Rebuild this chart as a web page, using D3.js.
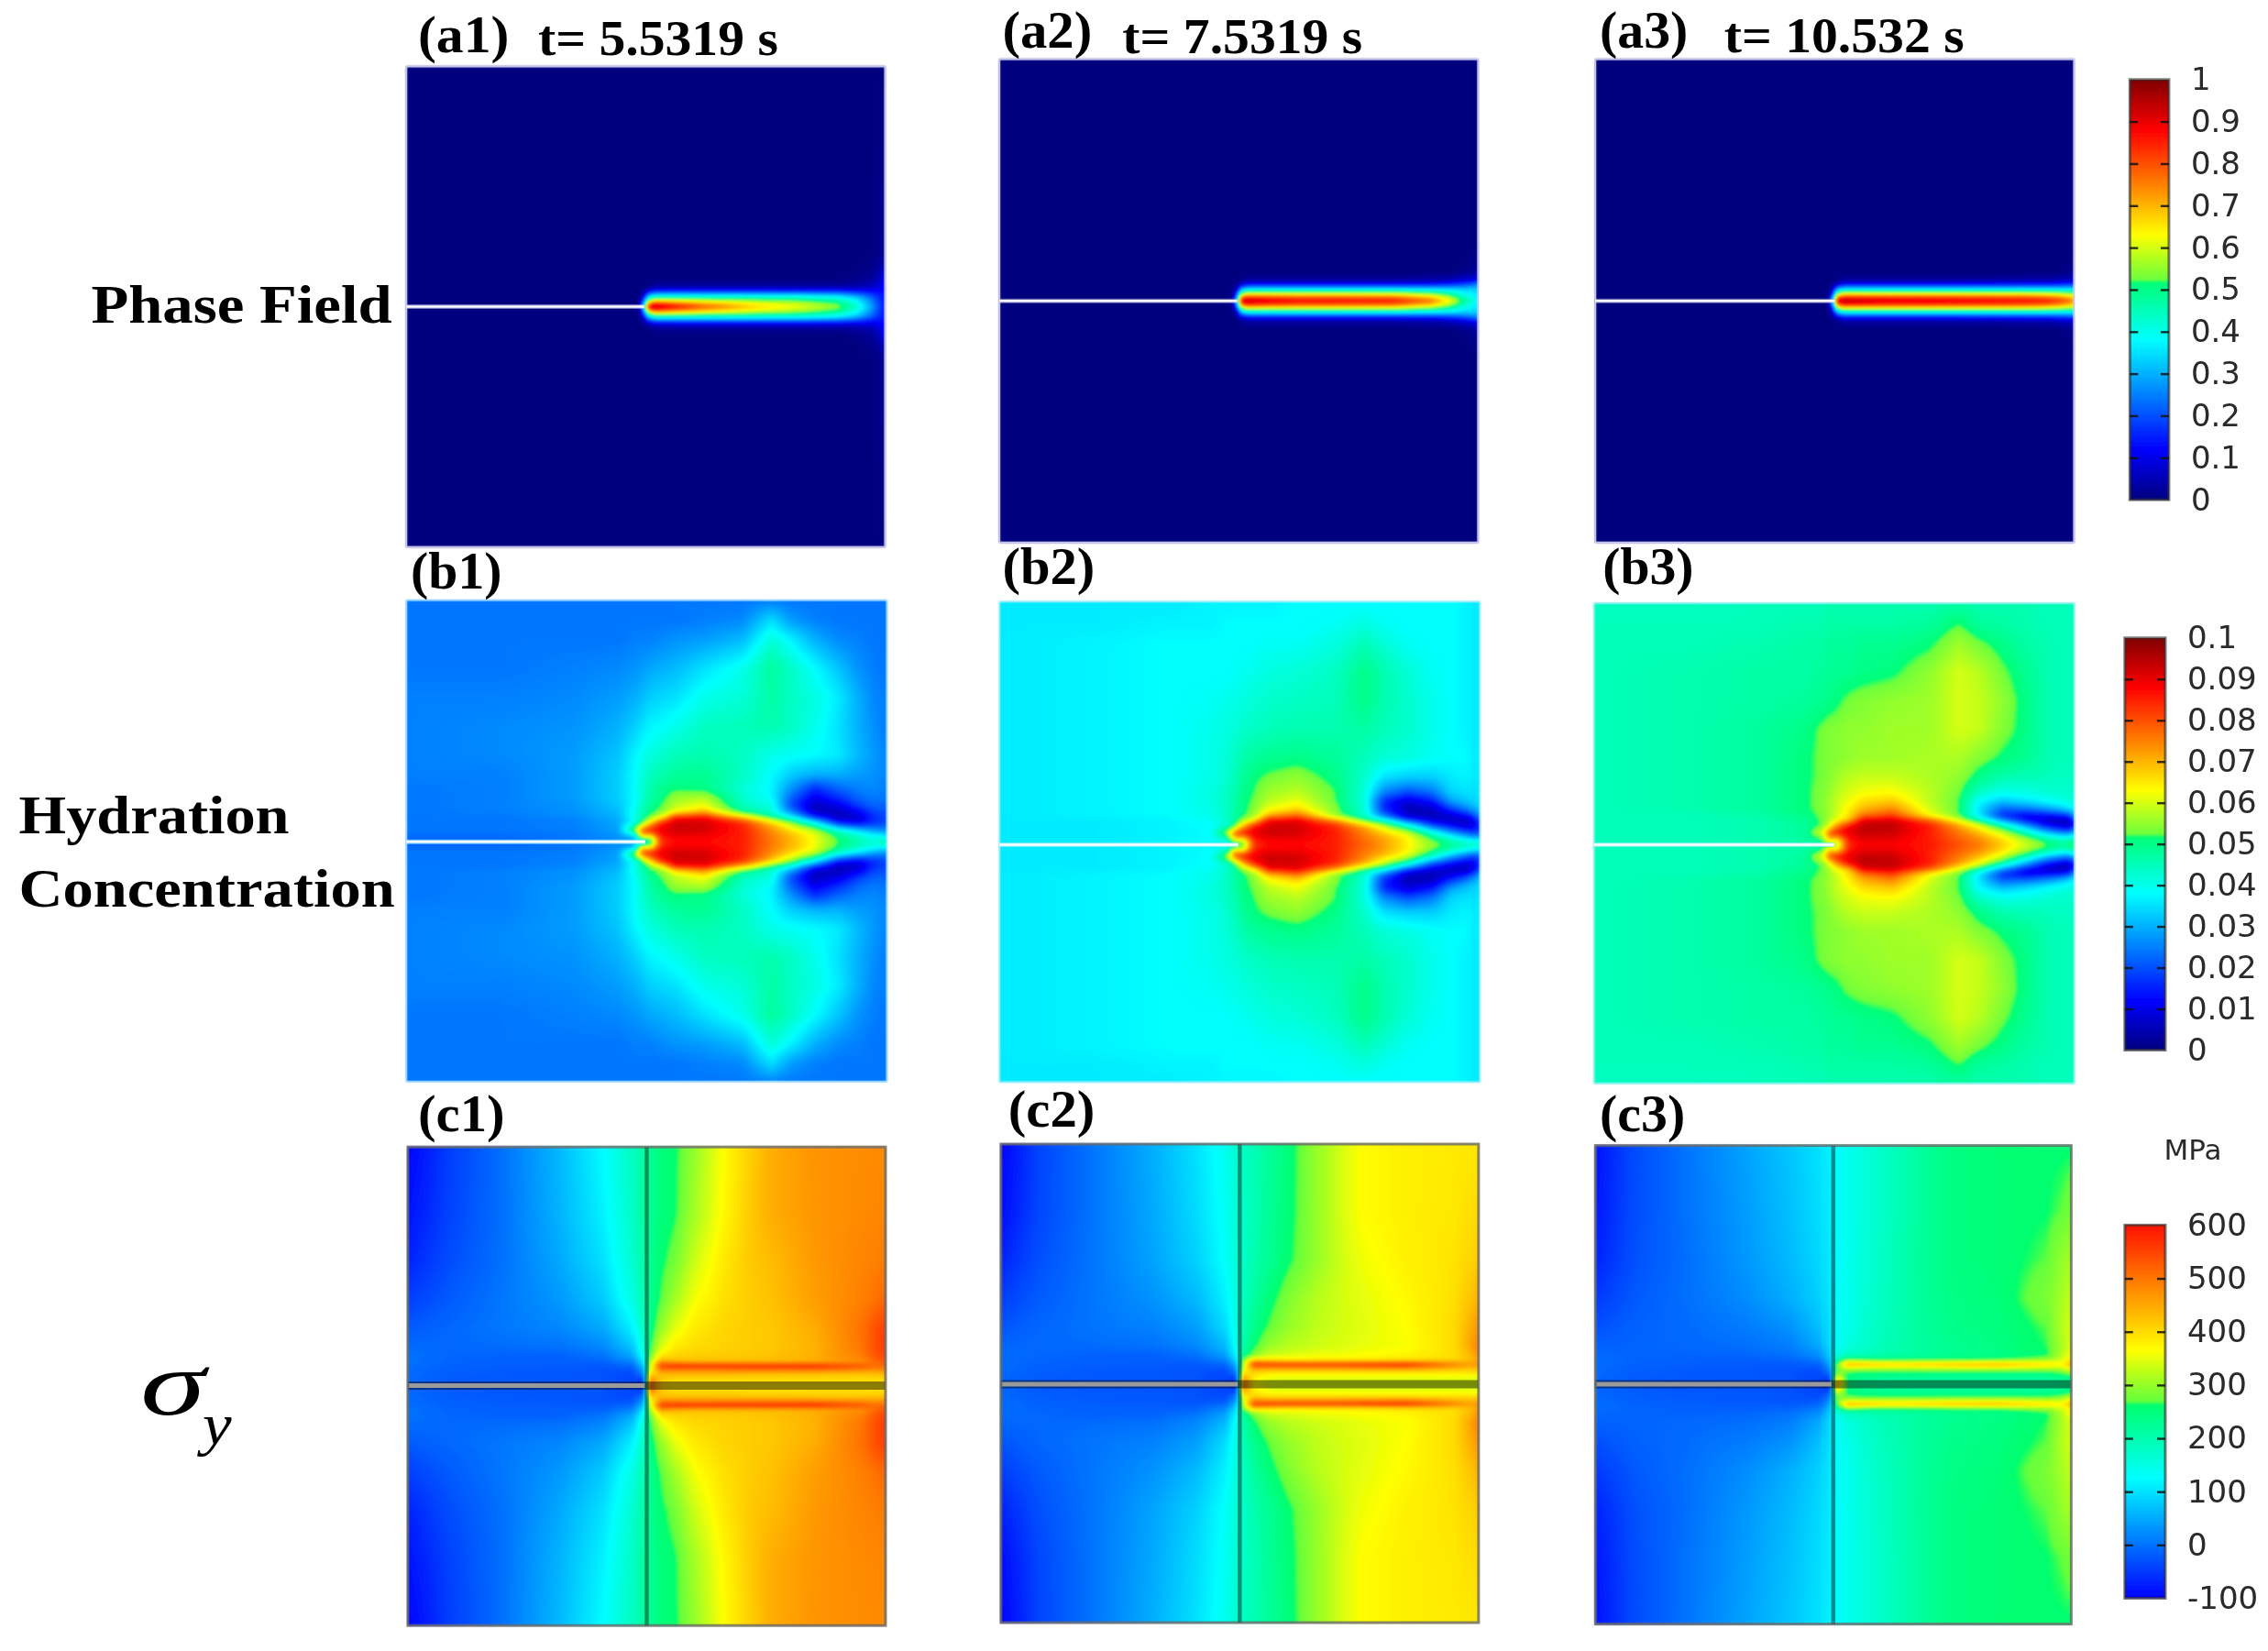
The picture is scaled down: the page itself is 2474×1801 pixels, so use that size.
<!DOCTYPE html>
<html><head><meta charset="utf-8">
<style>html,body{margin:0;padding:0;background:#fff}svg{display:block}</style>
<script src="https://cdnjs.cloudflare.com/ajax/libs/d3/7.8.5/d3.min.js"></script>
</head><body><svg id="c" width="2474" height="1801" viewBox="0 0 2474 1801"></svg>
<script>
// ---- colour ramps (value -> colour)
const rampStops=[0,12,25,38,51.5,52.5,63,75,88,100];
const rampColors=["#00007f","#0000ff","#0080ff","#00ffff","#00ff78","#6eff3c","#ffff00","#ff8000","#ff0000","#7f0000"];
const stressStops=[-100,125,262,270,365,600];
const stressColors=["#0000ff","#00ffff","#00ff6e","#64ff3c","#ffff00","#ff1000"];

// ---- sample positions: u across the panel, v = distance from the crack line (panel heights)
const U_A=[0,.485,.495,.505,.52,.56,.62,.72,.82,.9,.94,.97,.99,1];
const V_A=[0,.008,.016,.023,.03,.036,.045,.06,.08,.11,.5];
const U_B=[0,.2,.35,.44,.475,.49,.505,.53,.56,.62,.7,.76,.8,.85,.9,.94,.97,.99,1];
const V_B=[0,.012,.024,.04,.052,.06,.075,.09,.11,.14,.18,.24,.3,.36,.42,.46,.5];
const U_C=[0,.08,.2,.32,.41,.47,.495,.505,.53,.56,.6,.66,.72,.76,.85,.95,.98,1];
const V_C=[0,.012,.024,.034,.042,.05,.06,.08,.12,.18,.26,.36,.5];

const phaseA1=[
[0,0,35,92,97,90,80,69,63,56,44,30,18,14],
[0,0,22,70,82,76,70,62,57,50,40,27,17,14],
[0,0,12,45,55,54,52,50,48,44,36,25,16,14],
[0,0,6,30,38,38,38,38,37,34,28,20,15,14],
[0,0,2,14,20,21,21,21,21,20,17,14,13,14],
[0,0,0,5,8,9,9,9,9,9,9,9,11,13],
[0,0,0,0,2,2,2,2,2,2,3,5,9,13],
[0,0,0,0,0,0,0,0,0,0,1,2,6,11],
[0,0,0,0,0,0,0,0,0,0,0,1,3,8],
[0,0,0,0,0,0,0,0,0,0,0,0,1,3],
[0,0,0,0,0,0,0,0,0,0,0,0,0,0]];
const phaseA2=[
[0,0,30,94,96,92,89,88,87,78,65,50,42,38],
[0,0,20,78,84,82,80,79,78,68,56,44,38,36],
[0,0,10,50,58,58,58,58,57,52,46,38,36,35],
[0,0,5,33,40,40,40,40,40,38,36,34,34,34],
[0,0,2,16,22,22,22,22,22,22,24,26,28,30],
[0,0,0,5,9,9,9,9,9,10,12,16,20,24],
[0,0,0,0,2,2,2,2,2,3,4,6,8,11],
[0,0,0,0,0,0,0,0,0,0,0,1,2,5],
[0,0,0,0,0,0,0,0,0,0,0,0,1,2],
[0,0,0,0,0,0,0,0,0,0,0,0,0,0],
[0,0,0,0,0,0,0,0,0,0,0,0,0,0]];
const phaseA3=[
[0,0,30,95,97,95,93,92,90,88,87,83,78,72],
[0,0,20,78,85,84,83,82,81,80,78,74,70,66],
[0,0,10,50,60,60,60,60,60,60,58,56,54,52],
[0,0,5,33,40,40,40,40,40,40,40,38,38,38],
[0,0,2,16,22,22,22,22,22,23,23,24,25,26],
[0,0,0,5,9,9,9,9,10,10,10,12,13,14],
[0,0,0,0,2,2,2,2,2,3,3,4,5,6],
[0,0,0,0,0,0,0,0,0,0,0,0,1,2],
[0,0,0,0,0,0,0,0,0,0,0,0,0,1],
[0,0,0,0,0,0,0,0,0,0,0,0,0,0],
[0,0,0,0,0,0,0,0,0,0,0,0,0,0]];

const hydroB1=[
[22,22,24,26,28,30,38,82,87,87,85,76,70,62,52,46,42,46,50],
[23,23,24,27,30,72,62,86,89,89,85,75,70,62,50,44,40,38,35],
[24,24,25,28,58,80,88,90,93,92,85,74,66,58,42,34,28,26,26],
[24,24,25,29,38,50,64,85,92,92,84,68,56,38,14,10,16,18,20],
[24,24,26,30,40,46,52,60,86,88,68,48,38,16,5,7,16,18,20],
[24,25,27,31,40,45,50,54,64,72,50,42,28,7,5,10,18,20,20],
[24,25,27,32,38,44,48,52,58,62,44,41,20,5,10,18,22,22,22],
[24,25,28,33,38,42,47,50,56,58,43,38,22,10,16,22,24,24,24],
[24,25,28,33,38,42,46,49,51,50,42,37,27,16,22,25,26,25,25],
[25,25,28,33,38,41,44,46,48,49,44,38,33,30,30,28,27,26,26],
[25,26,28,32,37,39,41,43,45,46,44,40,39,38,36,31,28,26,26],
[25,26,27,30,33,35,37,38,40,44,45,46,44,40,35,30,27,25,25],
[25,25,26,28,30,31,33,34,35,40,42,47,44,41,36,30,26,25,25],
[24,24,25,26,27,28,29,30,31,35,40,48,44,38,32,27,25,24,24],
[24,24,24,24,25,25,25,26,27,28,31,42,37,30,26,25,24,24,24],
[24,24,24,24,24,24,24,24,24,25,26,35,28,25,24,24,24,24,24],
[24,24,24,24,24,24,24,24,24,24,24,25,24,24,24,24,24,24,24]];
const hydroB2=[
[36,36,37,38,38,40,46,82,87,87,85,78,72,64,56,50,46,46,48],
[36,36,37,38,42,72,62,86,89,89,85,76,72,64,52,44,38,34,34],
[36,36,37,38,60,80,88,90,93,92,85,75,68,60,44,30,22,18,22],
[36,36,37,38,42,50,66,86,92,92,84,70,58,42,20,12,8,10,20],
[36,36,37,39,43,48,54,62,88,90,72,50,40,18,8,6,5,10,24],
[36,37,38,40,44,47,50,56,70,78,54,42,24,6,5,7,12,20,30],
[36,37,38,40,44,47,50,54,62,66,54,42,16,5,6,18,25,30,34],
[36,37,38,41,44,47,50,53,58,62,52,41,16,8,14,28,32,34,35],
[36,37,38,41,44,46,49,52,56,58,52,41,26,20,24,34,35,35,35],
[36,37,38,40,43,45,48,51,53,55,50,43,35,33,33,36,37,36,36],
[36,37,38,40,42,44,46,48,49,50,48,45,42,41,39,38,38,36,36],
[36,37,38,40,41,42,43,44,45,46,46,47,45,43,40,38,37,36,36],
[36,37,38,39,40,40,41,42,43,44,45,50,46,43,40,38,37,36,36],
[36,37,38,38,38,39,39,40,41,42,44,50,46,42,39,38,37,36,36],
[36,37,38,38,38,38,38,38,39,39,41,45,42,39,38,38,37,36,36],
[36,36,37,37,38,38,38,38,38,38,39,41,39,38,38,38,37,36,36],
[36,36,36,37,37,37,37,37,37,38,38,38,38,38,38,38,37,36,36]];
const hydroB3=[
[45,45,46,47,48,50,54,84,88,88,86,80,76,68,60,54,50,50,54],
[45,45,46,47,50,72,64,86,90,90,85,78,74,66,56,48,44,44,48],
[45,45,46,48,62,80,88,90,94,93,85,76,70,60,46,34,28,26,34],
[45,45,46,48,52,60,72,88,94,94,85,72,62,46,28,14,8,6,16],
[45,45,46,49,53,57,62,66,90,92,78,60,46,26,12,6,4,5,22],
[45,45,47,50,53,56,60,66,76,82,62,52,36,16,10,12,14,18,30],
[45,46,48,51,54,56,59,64,70,74,60,52,36,22,24,28,32,36,38],
[45,46,48,51,54,56,59,62,66,68,58,52,38,32,35,38,40,41,42],
[45,46,48,51,54,55,58,60,62,63,58,53,44,40,41,42,43,43,43],
[45,46,48,51,53,54,56,58,59,59,57,55,50,46,45,45,44,44,44],
[45,46,48,51,53,54,54,55,56,56,57,57,54,51,49,46,45,45,45],
[45,46,48,50,53,54,54,55,55,56,56,60,59,54,50,46,45,45,45],
[45,46,47,48,49,50,51,53,54,55,56,60,59,55,50,46,45,45,45],
[45,46,47,47,48,48,49,49,50,51,55,60,58,53,49,46,45,45,45],
[45,45,46,47,47,48,48,48,49,49,51,56,53,50,47,46,45,45,45],
[45,45,45,46,46,47,47,47,47,47,48,52,48,47,46,45,45,45,45],
[44,44,45,45,45,46,46,46,46,46,46,47,46,46,46,45,45,45,44]];

const stressC1=[
[-10,-20,-25,-25,-28,-40,-55,560,400,390,390,390,390,390,390,390,390,390],
[-8,-20,-24,-25,-28,-40,-50,500,420,400,400,400,400,400,400,400,400,400],
[-5,-18,-22,-24,-28,-35,20,400,430,430,430,430,425,425,420,420,425,430],
[-5,-16,-20,-22,-26,-25,50,330,500,500,495,500,505,505,510,490,480,490],
[0,-14,-18,-20,-22,-5,80,320,570,590,590,590,590,590,590,540,510,520],
[0,-12,-16,-16,-12,15,110,300,470,440,430,430,430,430,440,470,510,530],
[0,-10,-15,-15,0,45,140,270,395,410,415,415,420,425,445,490,530,550],
[-5,-8,-5,0,20,75,165,250,345,385,400,410,415,420,440,500,540,560],
[-20,-10,5,20,50,115,185,235,300,350,385,405,415,420,445,505,540,555],
[-45,-22,5,35,80,150,200,225,270,310,360,395,415,425,460,490,505,515],
[-70,-35,0,50,100,170,210,225,258,280,335,385,420,430,465,485,490,495],
[-85,-45,0,60,115,180,215,225,250,262,310,370,420,445,468,480,483,483],
[-100,-50,0,65,125,185,215,225,250,260,300,365,415,445,470,478,480,480]];
const stressC2=[
[-10,-20,-25,-25,-28,-40,-55,540,360,340,340,340,340,340,340,340,340,340],
[-10,-20,-24,-25,-28,-40,-50,480,380,350,345,345,345,345,345,345,345,345],
[-8,-18,-22,-24,-28,-35,10,380,400,385,385,385,385,385,385,385,390,395],
[-5,-16,-20,-22,-26,-25,40,320,480,470,470,470,475,480,485,440,430,440],
[-5,-14,-18,-20,-22,-5,70,300,570,580,580,580,580,590,595,500,470,480],
[-5,-12,-16,-16,-12,15,100,280,430,400,385,385,385,385,395,405,425,450],
[-5,-10,-15,-15,0,40,125,220,290,335,345,355,360,365,375,395,430,470],
[-10,-8,-5,0,20,65,145,200,258,300,320,335,345,352,362,400,450,490],
[-25,-10,3,15,40,95,155,190,235,270,300,325,340,348,365,400,440,470],
[-45,-20,5,30,65,115,160,180,215,250,285,320,340,350,370,395,420,440],
[-70,-30,5,45,85,130,165,175,200,225,258,300,340,358,378,392,405,415],
[-90,-38,5,50,95,135,165,175,195,222,252,300,345,368,380,388,395,400],
[-100,-40,5,55,100,140,170,178,195,220,250,300,345,368,380,385,388,388]];
const stressC3=[
[-10,-20,-25,-25,-28,-40,-55,500,245,215,215,215,215,215,215,215,220,225],
[-10,-20,-24,-25,-28,-40,-50,400,245,235,225,220,220,220,220,220,225,235],
[-8,-18,-22,-24,-28,-35,5,290,260,250,248,248,248,248,248,250,270,295],
[-5,-16,-20,-22,-26,-25,30,280,330,320,320,320,325,330,330,320,330,395],
[-5,-14,-18,-20,-22,-10,50,260,470,470,450,450,460,470,475,420,380,445],
[-5,-12,-16,-16,-12,5,70,200,300,270,255,255,255,258,265,300,340,390],
[-8,-12,-12,-10,0,25,90,150,180,190,200,212,225,230,240,260,320,370],
[-15,-12,-8,-2,12,50,100,130,155,170,190,208,225,232,245,265,310,345],
[-30,-15,-5,10,30,70,105,125,145,165,185,208,228,238,248,270,320,340],
[-50,-22,0,25,55,85,108,122,142,160,180,208,232,242,252,285,310,330],
[-70,-30,0,35,65,92,110,122,140,158,178,208,235,245,255,270,300,310],
[-80,-33,3,40,70,97,112,122,140,155,175,205,235,245,255,262,270,280],
[-85,-35,5,45,75,100,115,122,140,155,175,205,235,245,258,260,260,260]];

// ---- colour bar ticks and labels
const phaseTicks=[0,.1,.2,.3,.4,.5,.6,.7,.8,.9,1];
const phaseLabels=["0","0.1","0.2","0.3","0.4","0.5","0.6","0.7","0.8","0.9","1"];
const hydroTicks=[0,.01,.02,.03,.04,.05,.06,.07,.08,.09,.1];
const hydroLabels=["0","0.01","0.02","0.03","0.04","0.05","0.06","0.07","0.08","0.09","0.1"];
const stressTicks=[-100,0,100,200,300,400,500,600];
const stressLabels=["-100","0","100","200","300","400","500","600"];

// ---- text
const panelTags=["(a1)","(a2)","(a3)","(b1)","(b2)","(b3)","(c1)","(c2)","(c3)"];
const timeTags=["t= 5.5319 s","t= 7.5319 s","t= 10.532 s"];
const rowTitles=["Phase Field","Hydration","Concentration"];

// ---- layout (pixels of the 2474 wide page, given at 1568 scale then multiplied)
const S=2474/1568;
const panelBox=[ // x0,x1,y0,y1,crack line y, tip u
 [281,612,46,378,212,.497],[691,1022,41,375,208,.497],[1103,1434,41,375,208,.5],
 [281,613,415,748,582,.497],[691,1023,416,748,584,.497],[1102,1434,417,749,584,.5],
 [282,612,793,1124,958,.5],[692,1022,791,1122,957,.5],[1103,1432,792,1123,957,.5]];
const tagPos=[[289,352,36],[693,755,33],[1106,1167,33],[284,347,407],[693,757,404],[1108,1171,404],[289,349,782],[697,757,779],[1106,1165,782]];
const timePos=[[372,538,38],[776,942,37],[1192,1358,36]];
const titlePos=[[63,271,223],[13,200,576],[13,273,627]];
const blurRadius=[2,3,2];

const svg=d3.select("#c");
const fields=[phaseA1,phaseA2,phaseA3,hydroB1,hydroB2,hydroB3,stressC1,stressC2,stressC3];
const rampCol=d3.scaleLinear().domain(rampStops).range(rampColors).clamp(true);
const stressCol=d3.scaleLinear().domain(stressStops).range(stressColors).clamp(true);

function lut(col,lo,hi){
  const n=2048,t=new Uint8Array(n*3),s=d3.scaleLinear([0,n-1],[lo,hi]);
  for(let i=0;i<n;i++){const c=d3.rgb(col(s(i)));t[3*i]=c.r;t[3*i+1]=c.g;t[3*i+2]=c.b;}
  return {t,n,lo,hi};
}
const lutRamp=lut(rampCol,0,100), lutStress=lut(stressCol,-100,600);
const defs=svg.append("defs");
defs.append("filter").attr("id","soft").attr("x","-2%").attr("y","-2%").attr("width","104%").attr("height","104%")
  .append("feGaussianBlur").attr("stdDeviation",.9);
const tb=defs.append("filter").attr("id","txt").attr("x","-5%").attr("y","-20%").attr("width","110%").attr("height","140%");
tb.append("feGaussianBlur").attr("stdDeviation",.7);

function boxPass(f,W,H,r,stepA,stepB,nA,nB){
  const tmp=new Float32Array(nA);
  for(let b=0;b<nB;b++){
    for(let a=0;a<nA;a++){
      let s=0;for(let k=-r;k<=r;k++){const q=Math.max(0,Math.min(nA-1,a+k));s+=f[b*stepB+q*stepA];}
      tmp[a]=s/(2*r+1);
    }
    for(let a=0;a<nA;a++)f[b*stepB+a*stepA]=tmp[a];
  }
}
function render(rows,U,V,L,W,H,cyRel,r){
  const cv=document.createElement("canvas");cv.width=W;cv.height=H;
  const ctx=cv.getContext("2d"),im=ctx.createImageData(W,H),d=im.data;
  const fu=d3.scaleLinear().domain(U).range(d3.range(U.length)).clamp(true);
  const fv=d3.scaleLinear().domain(V).range(d3.range(V.length)).clamp(true);
  const us=new Float64Array(W);for(let x=0;x<W;x++)us[x]=fu((x+.5)/W);
  const f=new Float32Array(W*H);
  for(let y=0;y<H;y++){
    const vi=fv(Math.abs(y+.5-cyRel)/H),j0=Math.min(V.length-2,Math.floor(vi)),tv=vi-j0;
    const r0=rows[j0],r1=rows[j0+1];
    for(let x=0;x<W;x++){
      const ui=us[x],i0=Math.min(U.length-2,Math.floor(ui)),tu=ui-i0;
      const a=r0[i0]+(r0[i0+1]-r0[i0])*tu,b=r1[i0]+(r1[i0+1]-r1[i0])*tu;
      f[y*W+x]=a+(b-a)*tv;
    }
  }
  for(let p=0;p<2;p++){boxPass(f,W,H,r,1,W,W,H);boxPass(f,W,H,r,W,1,H,W);}
  for(let i=0;i<W*H;i++){
    let k=Math.round((f[i]-L.lo)/(L.hi-L.lo)*(L.n-1));k=Math.max(0,Math.min(L.n-1,k));
    d[4*i]=L.t[3*k];d[4*i+1]=L.t[3*k+1];d[4*i+2]=L.t[3*k+2];d[4*i+3]=255;
  }
  ctx.putImageData(im,0,0);
  return cv.toDataURL("image/png");
}

const gF=svg.append("g"),gO=svg.append("g"),gT=svg.append("g").attr("filter","url(#txt)");
panelBox.forEach((b,i)=>{
  const x0=b[0]*S,x1=b[1]*S,y0=b[2]*S,y1=b[3]*S,cy=b[4]*S,W=Math.round(x1-x0),H=Math.round(y1-y0);
  const type=Math.floor(i/3);
  const U=[U_A,U_B,U_C][type],V=[V_A,V_B,V_C][type],L=type<2?lutRamp:lutStress;
  gF.append("image").attr("x",x0).attr("y",y0).attr("width",W).attr("height",H)
    .attr("href",render(fields[i],U,V,L,W,H,cy-y0,blurRadius[type])).attr("filter","url(#soft)").attr("preserveAspectRatio","none");
  const tip=x0+b[5]*W;
  if(type===0){
    gO.append("rect").attr("x",x0).attr("y",y0).attr("width",W).attr("height",H).attr("fill","none").attr("stroke","#c4c4ee").attr("stroke-width",1.6);
    gO.append("line").attr("x1",x0).attr("x2",tip).attr("y1",cy).attr("y2",cy).attr("stroke","#b8b8e0").attr("stroke-width",5).attr("opacity",.6);
    gO.append("line").attr("x1",x0).attr("x2",tip).attr("y1",cy).attr("y2",cy).attr("stroke","#fff").attr("stroke-width",2.6);
  } else if(type===1){
    gO.append("rect").attr("x",x0).attr("y",y0).attr("width",W).attr("height",H).attr("fill","none").attr("stroke","#9fe4ff").attr("stroke-width",1.4).attr("opacity",.7);
    gO.append("line").attr("x1",x0).attr("x2",tip).attr("y1",cy).attr("y2",cy).attr("stroke","#a0ecff").attr("stroke-width",5).attr("opacity",.7);
    gO.append("line").attr("x1",x0).attr("x2",tip).attr("y1",cy).attr("y2",cy).attr("stroke","#fff").attr("stroke-width",2.6);
  } else {
    const g=gO.append("g").attr("filter","url(#txt)");
    g.append("line").attr("x1",tip).attr("x2",tip).attr("y1",y0).attr("y2",y1).attr("stroke","#000").attr("stroke-opacity",.42).attr("stroke-width",4.5);
    g.append("line").attr("x1",x0).attr("x2",x1).attr("y1",cy).attr("y2",cy).attr("stroke","#000").attr("stroke-opacity",.45).attr("stroke-width",9);
    g.append("line").attr("x1",x0).attr("x2",tip-2).attr("y1",cy).attr("y2",cy).attr("stroke","#9a9a9a").attr("stroke-width",5);
    g.append("rect").attr("x",x0).attr("y",y0).attr("width",W).attr("height",H).attr("fill","none").attr("stroke","#555").attr("stroke-opacity",.7).attr("stroke-width",3);
  }
});

// ---- panel tags and titles
const serif="'Liberation Serif','Times New Roman',serif";
function label(t,x0,x1,base,size,weight,style){
  gT.append("text").attr("x",x0*S).attr("y",base*S).attr("textLength",(x1-x0)*S).attr("lengthAdjust","spacingAndGlyphs")
    .attr("font-family",serif).attr("font-size",size).attr("font-weight",weight||"bold").attr("font-style",style||"normal").attr("fill","#000").text(t);
}
panelTags.forEach((t,i)=>label(t,tagPos[i][0],tagPos[i][1],tagPos[i][2],56));
timeTags.forEach((t,i)=>label(t,timePos[i][0],timePos[i][1],timePos[i][2],54));
rowTitles.forEach((t,i)=>label(t,titlePos[i][0],titlePos[i][1],titlePos[i][2],60));
label("\u03c3",97,142,978,100,"normal","italic");
label("y",140,160,998,64,"normal","italic");

// ---- colour bars
function colorbar(x0,x1,yTop,yBot,dom,col,ticks,labels){
  const X0=x0*S,X1=x1*S,T=yTop*S,B=yBot*S;
  const y=d3.scaleLinear().domain(dom).range([B,T]);
  const g=svg.append("g");
  g.append("g").attr("filter","url(#txt)").selectAll("rect").data(d3.range(Math.round(T),Math.round(B)))
    .join("rect").attr("x",X0).attr("width",X1-X0).attr("y",d=>d).attr("height",1.5).attr("fill",d=>col(y.invert(d+.5)));
  g.append("rect").attr("x",X0).attr("y",T).attr("width",X1-X0).attr("height",B-T).attr("fill","none").attr("stroke","#333").attr("stroke-opacity",.65).attr("stroke-width",3).attr("filter","url(#txt)");
  const inner=ticks.filter(t=>t!==dom[0]&&t!==dom[1]);
  const a1=d3.axisRight(y).tickValues(inner).tickSize(9).tickFormat("");
  const a2=d3.axisLeft(y).tickValues(inner).tickSize(9).tickFormat("");
  [[a1,X0],[a2,X1]].forEach(([a,x])=>{
    const t=g.append("g").attr("transform",`translate(${x},0)`).call(a);
    t.select(".domain").remove();
    t.selectAll("line").attr("stroke","#111").attr("stroke-width",2.4).attr("stroke-opacity",.85);
  });
  const fmt=d=>labels[ticks.indexOf(d)];
  const ax=g.append("g").attr("transform",`translate(${X1},0)`).attr("filter","url(#txt)")
    .call(d3.axisRight(y).tickValues(ticks).tickSize(0).tickPadding(24).tickFormat(fmt));
  ax.select(".domain").remove();
  ax.selectAll("text").attr("font-family","'DejaVu Sans',sans-serif").attr("font-size",34).attr("fill","#2a2a2a");
}
colorbar(1472.5,1499.5,55,345.5,[0,1],d3.scaleLinear().domain(rampStops.map(d=>d/100)).range(rampColors),phaseTicks,phaseLabels);
colorbar(1469,1497,441,726,[0,.1],d3.scaleLinear().domain(rampStops.map(d=>d/1000)).range(rampColors),hydroTicks,hydroLabels);
colorbar(1469,1497,847,1105,[-100,600],stressCol,stressTicks,stressLabels);
svg.append("text").attr("x",1496*S).attr("y",802*S).attr("font-family","'DejaVu Sans',sans-serif").attr("font-size",31).attr("fill","#2a2a2a").attr("filter","url(#txt)").text("MPa");
</script></body></html>
